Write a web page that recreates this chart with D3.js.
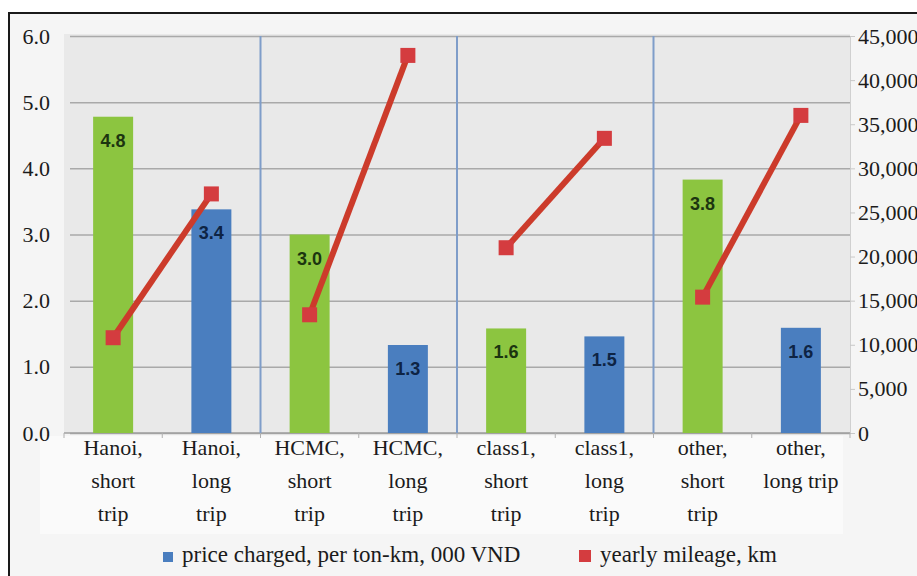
<!DOCTYPE html>
<html>
<head>
<meta charset="utf-8">
<script src="https://cdn.jsdelivr.net/npm/d3@7.8.5/dist/d3.min.js"></script>
<style>
  html, body { margin: 0; padding: 0; background: #fff; }
  svg { display: block; }
</style>
</head>
<body>
<svg id="chart" width="917" height="576"></svg>
<script>
// categories, one label line per "\n"
const categories = [
    'Hanoi,\nshort\ntrip', 'Hanoi,\nlong\ntrip',
    'HCMC,\nshort\ntrip', 'HCMC,\nlong\ntrip',
    'class1,\nshort\ntrip', 'class1,\nlong\ntrip',
    'other,\nshort\ntrip', 'other,\nlong trip'
];
// group each category belongs to (the mileage line is drawn per group)
const groups = ['Hanoi', 'Hanoi', 'HCMC', 'HCMC', 'class1', 'class1', 'other', 'other'];
// price charged, per ton-km, 000 VND (left axis)
const priceValues = [4.78, 3.38, 3.0, 1.33, 1.58, 1.46, 3.83, 1.59];
// yearly mileage, km (right axis)
const mileageValues = [10800, 27100, 13400, 42800, 21000, 33400, 15400, 36000];

const leftTicks = [0, 1, 2, 3, 4, 5, 6];
const rightTicks = [0, 5000, 10000, 15000, 20000, 25000, 30000, 35000, 40000, 45000];
const legendLabels = ['price charged, per ton-km, 000 VND', 'yearly mileage, km'];

const plot = { left: 64, right: 850, top: 36, bottom: 433 };
const serif = '"Liberation Serif", "DejaVu Serif", serif';
const colors = {
    short: '#8cc540',
    long: '#4a7ebf',
    line: '#cc3b2b',
    marker: '#d43c3f',
    grid: '#a9a9a9',
    separator: '#7f9dc9',
    text: '#1b1b1b'
};

const svg = d3.select('#chart');

// outer frame
svg.append('rect')
    .attr('x', 9).attr('y', 13)
    .attr('width', 1000).attr('height', 700)
    .attr('fill', '#f5f5f5')
    .attr('stroke', '#1a1a1a')
    .attr('stroke-width', 2);

// lighter band behind category labels
svg.append('rect')
    .attr('x', 40).attr('y', 436)
    .attr('width', 803).attr('height', 98)
    .attr('fill', '#fafafa');

// plot background
svg.append('rect')
    .attr('x', plot.left).attr('y', plot.top - 2)
    .attr('width', plot.right - plot.left).attr('height', plot.bottom - plot.top + 2)
    .attr('fill', '#e9e9e9');

const x = d3.scaleBand()
    .domain(categories)
    .range([plot.left, plot.right])
    .paddingInner(0.593)
    .paddingOuter(0.2965);

const yLeft = d3.scaleLinear().domain([0, 6]).range([plot.bottom, plot.top]);
const yRight = d3.scaleLinear().domain([0, 45000]).range([plot.bottom, plot.top]);

// left axis with gridlines
const leftAxis = svg.append('g')
    .attr('transform', `translate(${plot.left},0)`)
    .call(d3.axisLeft(yLeft)
        .tickValues(leftTicks)
        .tickFormat(d3.format('.1f'))
        .tickSize(-(plot.right - plot.left))
        .tickPadding(14));
leftAxis.select('.domain').remove();
leftAxis.selectAll('.tick line')
    .attr('stroke', colors.grid)
    .attr('stroke-width', 1.5)
    .attr('x1', 6);
leftAxis.selectAll('.tick text')
    .attr('fill', colors.text)
    .style('font-family', serif)
    .style('font-size', '22px');

// right axis
const rightAxis = svg.append('g')
    .attr('transform', `translate(${plot.right},0)`)
    .call(d3.axisRight(yRight)
        .tickValues(rightTicks)
        .tickFormat(d3.format(','))
        .tickSize(5)
        .tickPadding(3));
rightAxis.select('.domain').attr('stroke', '#d0d0d0');
rightAxis.selectAll('.tick line').attr('stroke', '#c8c8c8');
rightAxis.selectAll('.tick text')
    .attr('fill', colors.text)
    .style('font-family', serif)
    .style('font-size', '22px');

// baseline and category boundary ticks
svg.append('line')
    .attr('x1', plot.left).attr('x2', plot.right)
    .attr('y1', plot.bottom).attr('y2', plot.bottom)
    .attr('stroke', '#a0a0a0')
    .attr('stroke-width', 1.5);

const boundaries = d3.range(0, categories.length + 1).map(k => plot.left + k * x.step());
svg.selectAll('.cat-tick')
    .data(boundaries)
    .enter()
    .append('line')
    .attr('class', 'cat-tick')
    .attr('x1', d => d).attr('x2', d => d)
    .attr('y1', plot.bottom).attr('y2', plot.bottom + 5)
    .attr('stroke', '#b0b0b0');

// blue separators between city groups
svg.selectAll('.separator')
    .data(boundaries.filter((d, k) => k > 0 && k < categories.length && k % 2 === 0))
    .enter()
    .append('line')
    .attr('class', 'separator')
    .attr('x1', d => d).attr('x2', d => d)
    .attr('y1', plot.top).attr('y2', plot.bottom)
    .attr('stroke', colors.separator)
    .attr('stroke-width', 2);

// bars
const isShort = c => c.includes('short');
svg.selectAll('.bar')
    .data(categories)
    .enter()
    .append('rect')
    .attr('class', 'bar')
    .attr('x', d => x(d))
    .attr('y', (d, i) => yLeft(priceValues[i]))
    .attr('width', x.bandwidth())
    .attr('height', (d, i) => plot.bottom - yLeft(priceValues[i]))
    .attr('fill', d => isShort(d) ? colors.short : colors.long);

// bar value labels
svg.selectAll('.bar-label')
    .data(categories)
    .enter()
    .append('text')
    .attr('class', 'bar-label')
    .attr('x', d => x(d) + x.bandwidth() / 2)
    .attr('y', (d, i) => yLeft(priceValues[i]) + 30)
    .attr('text-anchor', 'middle')
    .attr('fill', d => isShort(d) ? '#1c3510' : '#0e2444')
    .style('font-family', '"Liberation Sans", Arial, sans-serif')
    .style('font-weight', 'bold')
    .style('font-size', '18px')
    .text((d, i) => d3.format('.1f')(priceValues[i]));

// mileage line, one segment per group
const cx = d => x(d) + x.bandwidth() / 2;
const points = categories.map((c, i) => ({ c, g: groups[i], v: mileageValues[i] }));
const line = d3.line()
    .x(d => cx(d.c))
    .y(d => yRight(d.v));

svg.selectAll('.mileage-line')
    .data(d3.groups(points, d => d.g))
    .enter()
    .append('path')
    .attr('class', 'mileage-line')
    .attr('d', d => line(d[1]))
    .attr('fill', 'none')
    .attr('stroke', colors.line)
    .attr('stroke-width', 6);

svg.selectAll('.marker')
    .data(points)
    .enter()
    .append('rect')
    .attr('class', 'marker')
    .attr('x', d => cx(d.c) - 7.5)
    .attr('y', d => yRight(d.v) - 7.5)
    .attr('width', 15).attr('height', 15)
    .attr('fill', colors.marker);

// category labels
const catLabels = svg.selectAll('.cat-label')
    .data(categories)
    .enter()
    .append('text')
    .attr('class', 'cat-label')
    .attr('text-anchor', 'middle')
    .attr('fill', colors.text)
    .style('font-family', serif)
    .style('font-size', '22px');

catLabels.selectAll('tspan')
    .data(d => d.split('\n').map(t => ({ t, c: d })))
    .enter()
    .append('tspan')
    .attr('x', d => cx(d.c))
    .attr('y', (d, i) => 455 + i * 33)
    .text(d => d.t);

// legend
const legendItems = [
    { label: legendLabels[0], color: colors.long, x: 163, size: 10 },
    { label: legendLabels[1], color: colors.marker, x: 579, size: 12 }
];
const legend = svg.selectAll('.legend-item')
    .data(legendItems)
    .enter()
    .append('g')
    .attr('class', 'legend-item');

legend.append('rect')
    .attr('x', d => d.x)
    .attr('y', d => 562 - d.size)
    .attr('width', d => d.size)
    .attr('height', d => d.size)
    .attr('fill', d => d.color);

legend.append('text')
    .attr('x', d => d.x + d.size + 9)
    .attr('y', 562)
    .attr('fill', colors.text)
    .style('font-family', serif)
    .style('font-size', '23px')
    .text(d => d.label);
</script>
</body>
</html>
